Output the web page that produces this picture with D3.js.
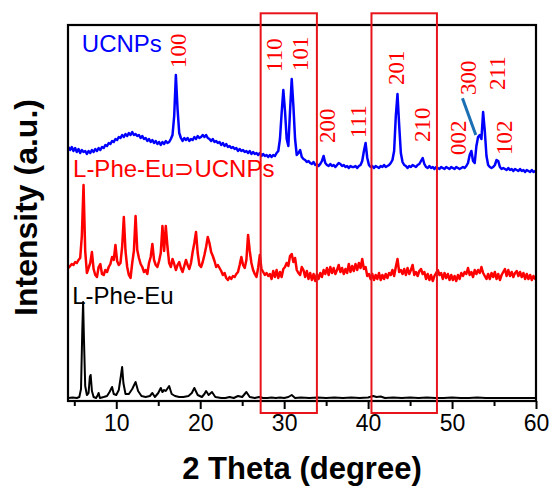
<!DOCTYPE html>
<html>
<head>
<meta charset="utf-8">
<script src="https://cdn.jsdelivr.net/npm/d3@7"></script>
<style>
  html, body { margin: 0; padding: 0; background: #fff; }
  svg { display: block; }
</style>
</head>
<body>
<div id="chart"></div>
<script>
// ---------- DATA ----------
// 2θ sampling grid for the UCNPs and L-Phe-Eu⊃UCNPs scans
const gridStart = 4.3;
const gridStep = 0.2;

// UCNPs (stacked intensity, a.u.)
const ucnpsI = [
  254,251,254,250,253,249,252,248,251,249,
  250,247,250,248,251,249,252,250,253,251,
  254,253,256,255,258,257,260,259,262,261,
  264,263,266,264,267,265,268,266,269,266,
  267,265,266,263,265,262,263,260,262,259,
  261,258,260,257,259,256,259,257,260,258,
  259,262,266,285,326,292,268,263,260,263,
  261,263,260,262,261,264,262,265,263,264,
  266,264,266,263,262,260,262,259,260,258,
  259,256,258,255,257,254,255,253,254,252,
  253,250,252,250,251,249,250,248,250,247,
  249,247,248,246,248,245,247,245,246,244,
  246,244,246,245,248,250,262,288,311,290,
  262,255,290,322,295,262,246,248,251,244,
  242,241,239,240,238,237,239,236,237,235,
  237,240,245,238,236,235,237,235,236,234,
  236,238,237,235,236,234,235,233,235,234,
  234,235,233,235,236,240,250,258,243,236,
  234,235,233,235,234,233,235,234,236,234,
  235,236,238,241,250,285,307,276,248,239,
  236,235,233,235,234,236,235,234,236,237,
  240,243,237,234,233,235,233,234,232,234,
  233,232,234,233,232,234,233,232,234,233,
  232,234,233,232,233,234,233,235,238,246,
  250,240,238,255,264,266,262,289,270,245,
  236,234,233,234,236,241,240,234,232,233,
  232,231,233,231,232,230,232,231,230,232,
  230,231,229,231,230,229,231,229,230,229
];

// L-Phe-Eu⊃UCNPs (stacked intensity, a.u.)
const compositeI = [
  133,135,137,136,139,138,141,143,165,216,
  150,128,133,138,149,132,126,124,134,137,
  127,126,131,129,134,137,144,141,156,140,
  136,138,154,184,150,134,126,123,138,150,
  185,151,143,137,134,129,131,127,138,144,
  157,141,136,134,140,148,175,150,175,154,
  138,134,142,137,131,136,139,133,129,135,
  141,136,132,138,149,158,169,148,136,134,
  139,146,154,164,158,149,145,140,134,136,
  133,130,126,128,123,121,124,122,125,124,
  127,129,136,144,136,133,141,166,150,138,
  131,127,124,133,146,132,129,126,128,125,
  127,122,130,124,131,123,129,124,132,134,
  138,135,145,147,139,143,131,128,126,134,
  131,124,130,122,128,121,127,120,127,122,
  128,124,131,127,133,126,134,128,133,127,
  131,136,129,133,127,132,128,137,129,135,
  130,137,131,138,133,142,132,134,125,127,
  122,127,121,126,122,128,121,126,122,127,
  123,128,126,131,125,134,142,129,131,127,
  132,126,133,127,131,136,126,129,125,130,
  132,127,129,122,127,121,126,120,125,128,
  131,126,128,122,128,123,127,121,126,121,
  125,120,126,122,128,125,129,127,133,126,
  129,124,131,127,131,128,134,128,125,122,
  127,122,128,124,129,122,127,121,126,129,
  132,125,131,125,129,124,128,130,125,129,
  124,128,122,127,122,126,121,125,122,123
];

// L-Phe-Eu: [2θ, intensity]
const pheEu = [
  [4.3,3],[4.8,3.5],[5.3,3],[5.6,4],[5.8,12],[5.95,70],[6.05,99],[6.15,62],[6.3,15],[6.5,6],
  [6.7,8],[6.85,24],[6.95,26],[7.1,10],[7.3,4],[7.6,3],[7.8,6],[7.9,8],[8.05,3],[8.5,4],
  [8.9,5],[9.2,9],[9.5,14],[9.7,7],[10.0,6],[10.3,11],[10.55,25],[10.7,34],[10.85,18],[11.1,7],
  [11.5,7],[11.9,12],[12.3,19],[12.6,10],[13.0,5],[13.5,4],[14.0,5],[14.3,8],[14.6,4],[15.0,8],
  [15.3,13],[15.5,9],[15.7,11],[15.9,10],[16.3,15],[16.6,7],[17.0,5],[17.5,4],[18.0,4],[18.6,5],
  [19.0,8],[19.3,13],[19.7,6],[20.2,4],[20.5,7],[20.7,10],[21.0,6],[21.4,9],[21.8,4],[22.5,3],
  [23.0,3],[23.5,4],[24.0,3],[24.5,5],[25.0,4],[25.5,9],[25.9,4],[26.5,3],[27.0,4],[27.5,3],
  [28.0,3],[28.5,3.5],[29.0,3],[29.5,3.5],[30.0,3],[30.5,4],[30.9,6],[31.3,3],[32.0,3.5],[33.0,3],
  [34.0,3.5],[35.0,3],[36.0,3.5],[37.0,3],[38.0,3.5],[39.0,3],[40.0,3.5],[40.6,5],[41.0,4],[41.5,4.5],
  [42.0,3],[43.0,3.5],[44.0,3],[45,3.5],[46,3],[47,3.5],[48,3],[49,3],[50,3.5],[51,3],
  [52,3],[53,3.5],[54,3],[55,3],[56,3],[57,3],[58,3],[59,3],[60,3]
];

// Miller-index labels: text, 2θ of label centre, intensity at label bottom
const hklText  = ["100","110","101","200","111","201","210","002","300","211","102"];
const hklTheta = [17.43, 28.87, 31.92, 35.18, 38.87, 43.40, 46.39, 50.69, 51.88, 55.33, 56.16];
const hklBase  = [333, 329, 330, 258, 263, 316, 259, 246, 306, 311, 246];

// highlighted 2θ windows
const boxRanges = [[27.2, 33.9], [40.4, 48.2]];

const xTicks = [10, 20, 30, 40, 50, 60];
const xMinorTicks = [5, 15, 25, 35, 45, 55];

const seriesNames = ["UCNPs", "L-Phe-Eu\u2283UCNPs", "L-Phe-Eu"];
const seriesColors = ["#0000ff", "#ff0000", "#000000"];

// ---------- CHART ----------
const W = 551, H = 487;
const m = { left: 68, right: 536, top: 25, bottom: 401 };

const svg = d3.select("#chart").append("svg").attr("width", W).attr("height", H);

const x = d3.scaleLinear().domain([4.25, 60]).range([m.left, m.right]);
const y = d3.scaleLinear().domain([0, 376]).range([m.bottom, m.top]);

svg.append("clipPath").attr("id", "clip")
  .append("rect").attr("x", m.left).attr("y", m.top)
  .attr("width", m.right - m.left).attr("height", m.bottom - m.top);

const line = d3.line().x(d => x(d[0])).y(d => y(d[1]));

const ucnps = ucnpsI.map((v, i) => [gridStart + i * gridStep, v]);
const composite = compositeI.map((v, i) => [gridStart + i * gridStep, v]);

const g = svg.append("g").attr("clip-path", "url(#clip)");
g.append("path").datum(pheEu).attr("d", line)
  .attr("fill", "none").attr("stroke", seriesColors[2]).attr("stroke-width", 2).attr("stroke-linejoin", "round");
g.append("path").datum(composite).attr("d", line)
  .attr("fill", "none").attr("stroke", seriesColors[1]).attr("stroke-width", 2.5).attr("stroke-linejoin", "round");
g.append("path").datum(ucnps).attr("d", line)
  .attr("fill", "none").attr("stroke", seriesColors[0]).attr("stroke-width", 2.5).attr("stroke-linejoin", "round");

// frame
svg.append("rect").attr("x", m.left).attr("y", m.top)
  .attr("width", m.right - m.left).attr("height", m.bottom - m.top)
  .attr("fill", "none").attr("stroke", "#000").attr("stroke-width", 2.2);

// bottom axis
const axis = d3.axisBottom(x).tickValues(xTicks).tickSize(8).tickPadding(6);
const ax = svg.append("g").attr("transform", `translate(0,${m.bottom})`).call(axis);
ax.select(".domain").remove();
ax.selectAll(".tick line").attr("stroke", "#000").attr("stroke-width", 2);
ax.selectAll(".tick text").attr("font-family", "Liberation Sans, Arial, sans-serif")
  .attr("font-size", 23).attr("fill", "#000");
const axm = d3.axisBottom(x).tickValues(xMinorTicks).tickSize(5).tickFormat("");
const axMinor = svg.append("g").attr("transform", `translate(0,${m.bottom})`).call(axm);
axMinor.select(".domain").remove();
axMinor.selectAll(".tick line").attr("stroke", "#000").attr("stroke-width", 2);

// red windows
svg.selectAll("rect.win").data(boxRanges).enter().append("rect")
  .attr("class", "win")
  .attr("x", d => x(d[0])).attr("width", d => x(d[1]) - x(d[0]))
  .attr("y", y(387.7)).attr("height", y(-12) - y(387.7))
  .attr("fill", "none").attr("stroke", "#e8141b").attr("stroke-width", 2);

// hkl labels
svg.selectAll("text.hkl").data(hklText).enter().append("text")
  .attr("class", "hkl")
  .attr("transform", (d, i) => `translate(${x(hklTheta[i]) + 7.8},${y(hklBase[i])}) rotate(-90)`)
  .attr("font-family", "Liberation Serif, Times New Roman, serif")
  .attr("font-size", 23).attr("fill", "#ff0000")
  .text(d => d);

// pointer line for 300
svg.append("line")
  .attr("x1", x(51.24)).attr("y1", y(302.7))
  .attr("x2", x(52.83)).attr("y2", y(266))
  .attr("stroke", "#1b6fb3").attr("stroke-width", 3);

// series names
const nameTheta = [5.9, 4.85, 4.75];
const nameBase = [349, 224, 97];
svg.selectAll("text.name").data(seriesNames).enter().append("text")
  .attr("class", "name")
  .attr("x", (d, i) => x(nameTheta[i])).attr("y", (d, i) => y(nameBase[i]))
  .attr("font-family", "Liberation Sans, Arial, sans-serif")
  .attr("font-size", 24).attr("fill", (d, i) => seriesColors[i])
  .text(d => d);

// axis titles
svg.append("text").attr("x", (m.left + m.right) / 2).attr("y", 479)
  .attr("text-anchor", "middle")
  .attr("font-family", "Liberation Sans, Arial, sans-serif")
  .attr("font-weight", "bold").attr("font-size", 31).attr("fill", "#000")
  .text("2 Theta (degree)");
svg.append("text").attr("transform", `translate(37,207.5) rotate(-90)`)
  .attr("text-anchor", "middle")
  .attr("font-family", "Liberation Sans, Arial, sans-serif")
  .attr("font-weight", "bold").attr("font-size", 32).attr("fill", "#000")
  .text("Intensity (a.u.)");
</script>
</body>
</html>
